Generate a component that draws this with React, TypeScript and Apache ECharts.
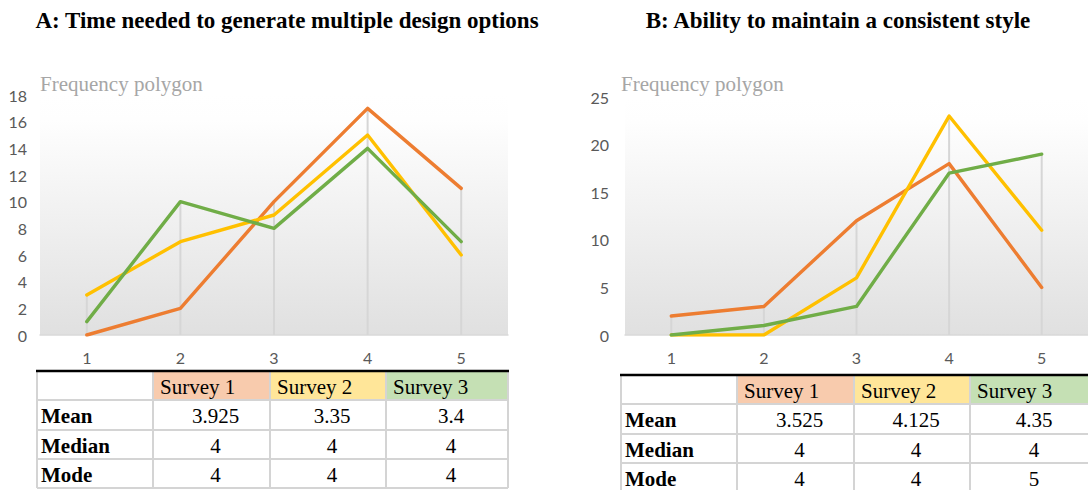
import React, { useEffect, useRef } from "react";
import * as echarts from "echarts";

// ---------- data ----------
const categories = ["1", "2", "3", "4", "5"];
const aSurvey1 = [0, 2, 10, 17, 11];
const aSurvey2 = [3, 7, 9, 15, 6];
const aSurvey3 = [1, 10, 8, 14, 7];
const bSurvey1 = [2, 3, 12, 18, 5];
const bSurvey2 = [0, 0, 6, 23, 11];
const bSurvey3 = [0, 1, 3, 17, 19];
const titleA = "A: Time needed to generate multiple design options";
const titleB = "B: Ability to maintain a consistent style";
const subtitle = "Frequency polygon";
const surveyNames = ["Survey 1", "Survey 2", "Survey 3"];
const statNames = ["Mean", "Median", "Mode"];
const statsA = [
  ["3.925", "3.35", "3.4"],
  ["4", "4", "4"],
  ["4", "4", "4"],
];
const statsB = [
  ["3.525", "4.125", "4.35"],
  ["4", "4", "4"],
  ["4", "4", "5"],
];
const yAxisA = { min: 0, max: 18, interval: 2 };
const yAxisB = { min: 0, max: 25, interval: 5 };

// ---------- styles ----------
const COLORS = ["#ED7D31", "#FFC000", "#70AD47"];
const HEADER_FILLS = ["#F8CBAD", "#FFE699", "#C5E0B4"];
const SERIF = "'Liberation Serif', 'Times New Roman', serif";
const SANS = "Lato";

function buildTable(cols: number[], rows: number[], stats: string[][]) {
  const els: any[] = [];
  for (let j = 0; j < 3; j++) {
    els.push({
      type: "rect",
      shape: { x: cols[j + 1] + 1, y: rows[0] + 1, width: cols[j + 2] - cols[j + 1] - 2, height: rows[1] - rows[0] - 2 },
      style: { fill: HEADER_FILLS[j] },
    });
  }
  for (let i = 1; i < rows.length; i++) {
    els.push({
      type: "line",
      shape: { x1: cols[0], y1: rows[i], x2: cols[cols.length - 1], y2: rows[i] },
      style: { stroke: "#d4d4d4", lineWidth: 2 },
    });
  }
  for (let j = 0; j < cols.length; j++) {
    els.push({
      type: "line",
      shape: { x1: cols[j], y1: rows[0], x2: cols[j], y2: rows[rows.length - 1] },
      style: { stroke: "#d4d4d4", lineWidth: 2 },
    });
  }
  els.push({
    type: "line",
    shape: { x1: cols[0] - 1, y1: rows[0], x2: cols[cols.length - 1] + 1, y2: rows[0] },
    style: { stroke: "#000000", lineWidth: 2.5 },
  });
  for (let j = 0; j < 3; j++) {
    els.push({
      type: "text",
      x: cols[j + 1] + 7,
      y: (rows[0] + rows[1]) / 2 + 1,
      style: { text: surveyNames[j], font: `21px ${SERIF}`, fill: "#000", align: "left", verticalAlign: "middle" },
    });
  }
  for (let i = 0; i < 3; i++) {
    const yc = (rows[i + 1] + rows[i + 2]) / 2 + 1;
    els.push({
      type: "text",
      x: cols[0] + 4,
      y: yc,
      style: { text: statNames[i], font: `bold 21px ${SERIF}`, fill: "#000", align: "left", verticalAlign: "middle" },
    });
    for (let j = 0; j < 3; j++) {
      els.push({
        type: "text",
        x: (cols[j + 1] + cols[j + 2]) / 2 + 4,
        y: yc,
        style: { text: stats[i][j], font: `21px ${SERIF}`, fill: "#000", align: "center", verticalAlign: "middle" },
      });
    }
  }
  return els;
}

const colsA = [37, 153, 270, 386, 508];
const rowsA = [371, 400, 430, 459, 488];
const colsB = [621, 737, 854, 970, 1090];
const rowsB = [375, 404, 434, 463, 492];

function gridBg(startFrac: number) {
  return new echarts.graphic.LinearGradient(0, 0, 0, 1, [
    { offset: 0, color: "#ffffff" },
    { offset: startFrac, color: "#fefefe" },
    { offset: 1, color: "#e0e0e0" },
  ]);
}

function maxOf(arrs: number[][]) {
  return categories.map((_, i) => Math.max(...arrs.map((a) => a[i])));
}

export default function App() {
  const ref = useRef<HTMLDivElement>(null);
  useEffect(() => {
    if (!ref.current) return;
    const chart = echarts.init(ref.current, null, { renderer: "svg" });
    const makeLabel = (margin: number) => ({
      color: "#595959",
      fontSize: 16,
      fontFamily: SANS,
      margin,
    });
    const makeLines = (idx: number, data: number[][]) =>
      data.map((d, k) => ({
        type: "line",
        name: surveyNames[k],
        xAxisIndex: idx,
        yAxisIndex: idx,
        data: d,
        symbol: "none",
        lineStyle: { color: COLORS[k], width: 3.4, cap: "round", join: "round" },
        itemStyle: { color: COLORS[k] },
        z: 3,
      }));
    const dataA = [aSurvey1, aSurvey2, aSurvey3];
    const dataB = [bSurvey1, bSurvey2, bSurvey3];
    chart.setOption({
      animation: false,
      grid: [
        { left: 40, top: 95, width: 468, height: 240, show: true, borderWidth: 0, backgroundColor: gridBg(0.104) },
        { left: 625, top: 97, width: 472, height: 238, show: true, borderWidth: 0, backgroundColor: gridBg(0.105) },
      ],
      xAxis: [0, 1].map((i) => ({
        type: "category",
        gridIndex: i,
        data: categories,
        boundaryGap: true,
        axisLine: { lineStyle: { color: "#d9d9d9", width: 1.5 } },
        axisTick: { show: false },
        axisLabel: makeLabel(14),
        splitLine: { show: false },
      })),
      yAxis: [yAxisA, yAxisB].map((y, i) => ({
        type: "value",
        gridIndex: i,
        min: y.min,
        max: y.max,
        interval: y.interval,
        axisLine: { show: false },
        axisTick: { show: false },
        splitLine: { show: false },
        axisLabel: makeLabel(i === 0 ? 13 : 16),
      })),
      series: [
        {
          type: "bar",
          xAxisIndex: 0,
          yAxisIndex: 0,
          data: maxOf(dataA),
          barWidth: 2,
          itemStyle: { color: "#d6d6d6" },
          silent: true,
          z: 1,
        },
        {
          type: "bar",
          xAxisIndex: 1,
          yAxisIndex: 1,
          data: maxOf(dataB),
          barWidth: 2,
          itemStyle: { color: "#d6d6d6" },
          silent: true,
          z: 1,
        },
        ...makeLines(0, dataA),
        ...makeLines(1, dataB),
      ],
      graphic: [
        {
          type: "text",
          x: 287,
          y: 20.5,
          style: { text: titleA, font: `bold 23px ${SERIF}`, fill: "#000", align: "center", verticalAlign: "middle" },
        },
        {
          type: "text",
          x: 838,
          y: 20.5,
          style: { text: titleB, font: `bold 23px ${SERIF}`, fill: "#000", align: "center", verticalAlign: "middle" },
        },
        {
          type: "text",
          x: 40,
          y: 84,
          style: { text: subtitle, font: `21px ${SERIF}`, fill: "#a6a6a6", align: "left", verticalAlign: "middle" },
        },
        {
          type: "text",
          x: 621,
          y: 84,
          style: { text: subtitle, font: `21px ${SERIF}`, fill: "#a6a6a6", align: "left", verticalAlign: "middle" },
        },
        ...buildTable(colsA, rowsA, statsA),
        ...buildTable(colsB, rowsB, statsB),
      ],
    });
    return () => chart.dispose();
  }, []);
  return (
    <div
      ref={ref}
      style={{ position: "fixed", left: 0, top: 0, width: 1088, height: 490, background: "#ffffff" }}
    />
  );
}
